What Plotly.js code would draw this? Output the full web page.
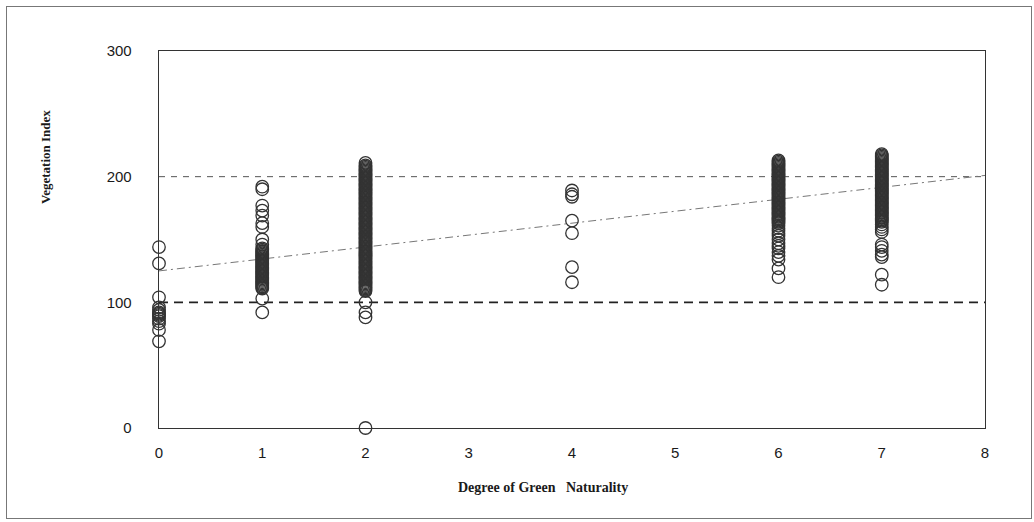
<!DOCTYPE html>
<html>
<head>
<meta charset="utf-8">
<script src="https://cdn.plot.ly/plotly-3.0.1.min.js"></script>
<style>
  html, body { margin: 0; padding: 0; background: #fff; }
  #wrap { position: relative; width: 1034px; height: 522px; }
  #chart { width: 1034px; height: 522px; }
  #frame { position: absolute; left: 6px; top: 6px; width: 1024px; height: 511px;
           border: 1px solid #777; pointer-events: none; }
</style>
</head>
<body>
<div id="wrap">
  <div id="chart"></div>
  <div id="frame"></div>
</div>
<script>
// Vegetation index observations grouped by degree of green naturality
const vi0 = [144, 131, 104, 96, 94, 92, 91, 90, 89, 87, 85, 83, 78, 69];
const vi1 = [192, 190, 177, 173, 169, 163, 160, 150, 146, 143,
             142, 141, 140, 139, 138, 137, 136, 135, 134, 133, 132, 131, 130, 129, 128, 127,
             126, 125, 124, 123, 122, 121, 120, 119, 118, 117, 116, 115, 114, 113, 112, 111,
             103, 92];
const vi2 = [211, 209, 208, 207, 206, 205, 204, 203, 202, 201, 200, 199, 198, 197, 196, 195,
             194, 193, 192, 191, 190, 189, 188, 187, 186, 185, 184, 183, 182, 181, 180, 179,
             178, 177, 176, 175, 174, 173, 172, 171, 170, 169, 168, 167, 166, 165, 164, 163,
             162, 161, 160, 159, 158, 157, 156, 155, 154, 153, 152, 151, 150, 149, 148, 147,
             146, 145, 144, 143, 142, 141, 140, 139, 138, 137, 136, 135, 134, 133, 132, 131,
             130, 129, 128, 127, 126, 125, 124, 123, 122, 121, 120, 119, 118, 117, 116, 115,
             114, 113, 112, 111, 110, 109, 100, 92, 88, 0];
const vi4 = [189, 186, 184, 165, 155, 128, 116];
const vi6 = [213, 212, 211, 210, 209, 208, 207, 206, 205, 204, 203, 202, 201, 200, 199, 198,
             197, 196, 195, 194, 193, 192, 191, 190, 189, 188, 187, 186, 185, 184, 183, 182,
             181, 180, 179, 178, 177, 176, 175, 174, 173, 172, 171, 170, 169, 168, 167, 166,
             165, 164, 163, 161, 159, 157, 155, 153, 150, 147, 145, 143, 140, 137, 134, 127, 120];
const vi7 = [218, 217, 216, 215, 214, 213, 212, 211, 210, 209, 208, 207, 206, 205, 204, 203,
             202, 201, 200, 199, 198, 197, 196, 195, 194, 193, 192, 191, 190, 189, 188, 187,
             186, 185, 184, 183, 182, 181, 180, 179, 178, 177, 176, 175, 174, 173, 172, 171,
             170, 169, 168, 167, 166, 165, 164, 162, 160, 158, 156, 146, 144, 141, 138, 136,
             122, 114];
const groups = [0, 1, 2, 4, 6, 7];
const groupValues = [vi0, vi1, vi2, vi4, vi6, vi7];

// Linear fit endpoints and reference levels
const fitX = [0, 8];
const fitY = [125, 201];
const refLevels = [200, 100];

const xTicks = [0, 1, 2, 3, 4, 5, 6, 7, 8];
const yTicks = [0, 100, 200, 300];
const xTitle = 'Degree of Green\u00a0\u00a0 Naturality';
const yTitle = 'Vegetation Index';

const ptsX = [], ptsY = [];
groups.forEach((g, i) => {
  groupValues[i].forEach(v => { ptsX.push(g); ptsY.push(v); });
});

const traces = [
  {
    x: [fitX[0], fitX[1]], y: [refLevels[0], refLevels[0]], mode: 'lines',
    line: { color: '#555', width: 1, dash: '6px,6px' }, hoverinfo: 'skip', showlegend: false
  },
  {
    x: [fitX[0], fitX[1]], y: [refLevels[1], refLevels[1]], mode: 'lines',
    line: { color: '#222', width: 1.6, dash: '9px,6px' }, hoverinfo: 'skip', showlegend: false
  },
  {
    x: fitX, y: fitY, mode: 'lines',
    line: { color: '#777', width: 1, dash: '8px,4px,2px,4px' }, hoverinfo: 'skip', showlegend: false
  },
  {
    x: ptsX, y: ptsY, mode: 'markers', type: 'scatter', showlegend: false,
    cliponaxis: false,
    marker: { symbol: 'circle-open', size: 12.5, color: '#333', line: { width: 1.3, color: '#333' } }
  }
];

const serif = 'Liberation Serif, Times New Roman, serif';
const layout = {
  width: 1034, height: 522,
  margin: { l: 159, r: 49, t: 51, b: 94 },
  paper_bgcolor: '#fff', plot_bgcolor: '#fff',
  showlegend: false,
  font: { family: 'Liberation Sans, Arial, sans-serif', color: '#222' },
  xaxis: {
    range: [0, 8], tickvals: xTicks, ticktext: xTicks.map(String),
    showgrid: false, zeroline: false, showline: true, linecolor: '#333', linewidth: 1.3,
    mirror: true, ticks: '', ticklabelstandoff: 11,
    tickfont: { size: 15, family: 'Liberation Sans, Arial, sans-serif', color: '#1a1a1a' }
  },
  yaxis: {
    range: [0, 300], tickvals: yTicks, ticktext: yTicks.map(String),
    showgrid: false, zeroline: false, showline: true, linecolor: '#333', linewidth: 1.3,
    mirror: true, ticks: '', ticklabelstandoff: 23,
    tickfont: { size: 15, family: 'Liberation Sans, Arial, sans-serif', color: '#1a1a1a' }
  },
  annotations: [
    { text: xTitle, xref: 'paper', yref: 'paper', x: (543 - 159) / 826, y: -(487 - 428) / 377,
      xanchor: 'center', yanchor: 'middle', showarrow: false,
      font: { family: serif, size: 14, color: '#1a1a1a', weight: 'bold' } },
    { text: yTitle, xref: 'paper', yref: 'paper', x: -(159 - 45) / 826, y: (428 - 157) / 377,
      xanchor: 'center', yanchor: 'middle', showarrow: false, textangle: -90,
      font: { family: serif, size: 13, color: '#1a1a1a', weight: 'bold' } }
  ]
};

Plotly.newPlot('chart', traces, layout, { displayModeBar: false, staticPlot: true });
</script>
</body>
</html>
